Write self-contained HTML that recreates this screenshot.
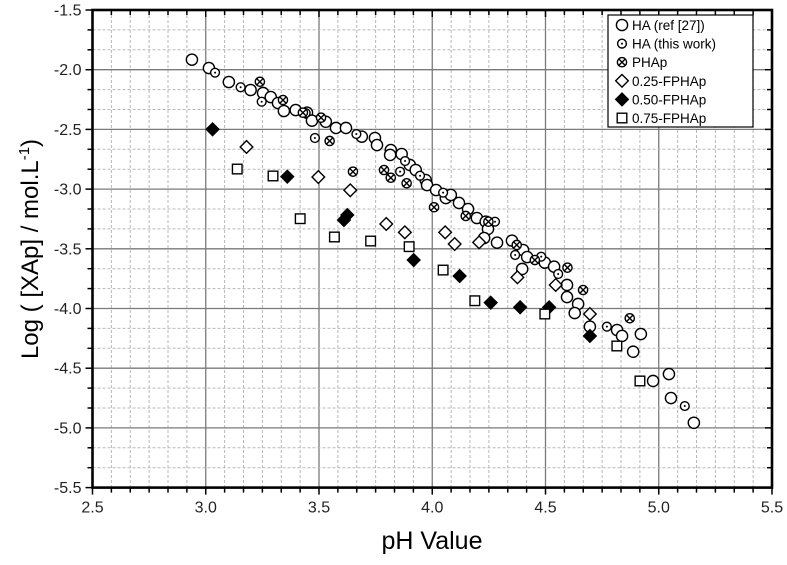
<!DOCTYPE html>
<html><head><meta charset="utf-8"><style>
body{margin:0;background:#fff;}
svg text{font-family:"Liberation Sans",Arial,sans-serif;}
</style></head><body>
<svg id="chart" width="787" height="560" viewBox="0 0 787 560" xmlns="http://www.w3.org/2000/svg">
<g id="grid"></g>
<g id="marks"></g>
<g id="axes"></g>
<text x="432" y="549" font-size="25" text-anchor="middle">pH Value</text>
<text transform="translate(38,249) rotate(-90)" font-size="24" text-anchor="middle">Log ( [XAp] / mol.L<tspan dy="-9" font-size="15">-1</tspan><tspan dy="9">)</tspan></text>
<g id="legend"></g>
</svg>
<script>
const xTicks=[2.5,3.0,3.5,4.0,4.5,5.0,5.5];
const yTicks=[-1.5,-2.0,-2.5,-3.0,-3.5,-4.0,-4.5,-5.0,-5.5];
const haRefX=[2.939,3.014,3.102,3.198,3.253,3.287,3.319,3.345,3.397,3.447,3.469,3.530,3.575,3.619,3.689,3.747,3.756,3.817,3.814,3.865,3.901,3.927,3.971,3.977,4.017,4.060,4.082,4.118,4.158,4.197,4.236,4.246,4.229,4.286,4.352,4.401,4.419,4.397,4.497,4.538,4.595,4.595,4.644,4.629,4.696,4.816,4.838,4.921,4.887,4.975,5.045,5.054,5.155];
const haRefY=[-1.916,-1.986,-2.103,-2.170,-2.195,-2.229,-2.279,-2.346,-2.338,-2.360,-2.427,-2.436,-2.488,-2.488,-2.561,-2.572,-2.631,-2.673,-2.714,-2.706,-2.798,-2.840,-2.924,-2.966,-3.008,-3.075,-3.049,-3.116,-3.167,-3.242,-3.273,-3.334,-3.410,-3.449,-3.432,-3.510,-3.569,-3.669,-3.616,-3.650,-3.803,-3.904,-3.962,-4.038,-4.152,-4.180,-4.230,-4.214,-4.362,-4.607,-4.549,-4.750,-4.957];
const haThisX=[3.041,3.154,3.247,3.441,3.482,3.665,3.858,3.880,3.946,4.048,4.277,4.366,4.481,4.556,4.771,5.115];
const haThisY=[-2.025,-2.147,-2.268,-2.363,-2.572,-2.539,-2.854,-2.765,-2.888,-3.030,-3.273,-3.552,-3.566,-3.711,-4.152,-4.817];
const phapX=[3.239,3.341,3.429,3.509,3.547,3.650,3.787,3.817,3.887,4.008,4.148,4.248,4.373,4.453,4.597,4.666,4.872];
const phapY=[-2.101,-2.254,-2.360,-2.402,-2.597,-2.854,-2.840,-2.905,-2.951,-3.152,-3.225,-3.273,-3.468,-3.594,-3.658,-3.845,-4.082];
const f25X=[3.180,3.497,3.638,3.797,3.879,4.057,4.099,4.207,4.376,4.545,4.696];
const f25Y=[-2.647,-2.899,-3.010,-3.292,-3.362,-3.362,-3.460,-3.446,-3.739,-3.803,-4.046];
const f50X=[3.030,3.360,3.625,3.610,3.918,4.121,4.258,4.388,4.516,4.696];
const f50Y=[-2.499,-2.896,-3.217,-3.259,-3.594,-3.728,-3.951,-3.990,-3.990,-4.230];
const f75X=[3.139,3.297,3.417,3.568,3.728,3.898,4.048,4.188,4.497,4.815,4.917];
const f75Y=[-2.832,-2.890,-3.248,-3.401,-3.435,-3.482,-3.678,-3.935,-4.046,-4.314,-4.607];
const legendLabels=["HA (ref [27])","HA (this work)","PHAp","0.25-FPHAp","0.50-FPHAp","0.75-FPHAp"];

const L=92.5,R=772,T=10,B=487.6;
function sx(v){return L+(v-2.5)/3*(R-L);}
function sy(v){return T+(-1.5-v)/4*(B-T);}
const NS="http://www.w3.org/2000/svg";
function mk(tag,attrs,parent){const e=document.createElementNS(NS,tag);for(const k in attrs)e.setAttribute(k,attrs[k]);parent.appendChild(e);return e;}
const grid=document.getElementById('grid'),axes=document.getElementById('axes'),marks=document.getElementById('marks'),legend=document.getElementById('legend');
for(let i=0;i<=36;i++){const x=L+i*(R-L)/36;const major=i%6===0;
 const g=mk('line',{x1:x,x2:x,y1:T,y2:B,stroke:major?'#7a7a7a':'#b8b8b8','stroke-width':major?1.3:1,'stroke-dasharray':major?'':'3,2'},grid);
 
 
 const tl=major?7:5;
 mk('line',{x1:x,x2:x,y1:T,y2:T+tl,stroke:'#000','stroke-width':1.5},axes);
 mk('line',{x1:x,x2:x,y1:B,y2:B+tl,stroke:'#000','stroke-width':1.5},axes);}
for(let i=0;i<=24;i++){const y=T+i*(B-T)/24;const major=i%3===0;
 const g=mk('line',{x1:L,x2:R,y1:y,y2:y,stroke:major?'#7a7a7a':'#b8b8b8','stroke-width':major?1.3:1,'stroke-dasharray':major?'':'3,2'},grid);
 
 
 const tl=major?7:5;
 mk('line',{x1:L,x2:L-tl,y1:y,y2:y,stroke:'#000','stroke-width':1.5},axes);
 mk('line',{x1:R,x2:R-tl,y1:y,y2:y,stroke:'#000','stroke-width':1.5},axes);}
const fr=mk('rect',{x:L,y:T,width:R-L,height:B-T,fill:'none',stroke:'#000','stroke-width':2.6},axes);


xTicks.forEach(v=>{const t=mk('text',{x:sx(v),y:B+25,'font-size':16,'text-anchor':'middle',fill:'#222'},axes);t.textContent=v.toFixed(1);
 
 });
yTicks.forEach(v=>{const t=mk('text',{x:L-11,y:sy(v)+5.5,'font-size':16,'text-anchor':'end',fill:'#222'},axes);t.textContent=v.toFixed(1);
 
 });
const SW=1.4;
function sym(type,x,y,p){
 if(type===0){mk('circle',{cx:x,cy:y,r:5.6,fill:'#fff',stroke:'#000','stroke-width':SW},p);}
 else if(type===1){mk('circle',{cx:x,cy:y,r:4.4,fill:'#fff',stroke:'#000','stroke-width':SW},p);mk('circle',{cx:x,cy:y,r:1,fill:'#000'},p);}
 else if(type===2){mk('circle',{cx:x,cy:y,r:4.6,fill:'#fff',stroke:'#000','stroke-width':SW},p);const d=3.2;
  mk('path',{d:`M${x-d},${y-d}L${x+d},${y+d}M${x+d},${y-d}L${x-d},${y+d}`,stroke:'#000','stroke-width':SW},p);}
 else if(type===3||type===4){const r=6.3;mk('path',{d:`M${x},${y-r}L${x+r},${y}L${x},${y+r}L${x-r},${y}Z`,fill:type===4?'#000':'#fff',stroke:'#000','stroke-width':SW},p);}
 else {const h=4.8;mk('rect',{x:x-h,y:y-h,width:2*h,height:2*h,fill:'#fff',stroke:'#000','stroke-width':SW},p);}
}
const series=[[haRefX,haRefY,'ha-ref'],[haThisX,haThisY,'ha-this-work'],[phapX,phapY,'phap'],[f25X,f25Y,'fphap-025'],[f50X,f50Y,'fphap-050'],[f75X,f75Y,'fphap-075']];
series.forEach((s,si)=>{s[0].forEach((xv,i)=>{const g=mk('g',{},marks);
 
 
 sym(si,sx(xv),sy(s[1][i]),g);});});
const lb=mk('rect',{x:608,y:15,width:145,height:112,fill:'#fff',stroke:'#000','stroke-width':1.2},legend);


legendLabels.forEach((txt,i)=>{const g=mk('g',{},legend);
 
 
 const y=25+i*18.6;sym(i,622,y,g);
 const t=mk('text',{x:632,y:y+5,'font-size':13.5,fill:'#000'},g);t.textContent=txt;});
</script>
</body></html>
